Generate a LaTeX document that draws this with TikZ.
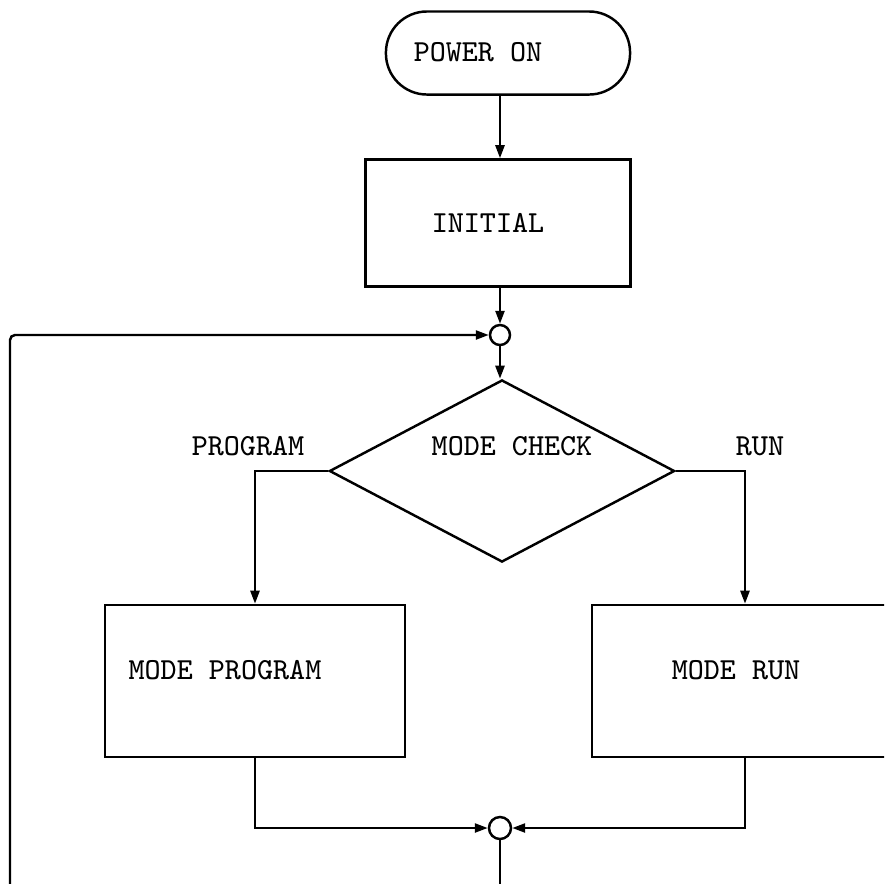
\documentclass[tikz,border=0pt]{standalone}
\usetikzlibrary{shapes.geometric,arrows.meta}
\begin{document}
\begin{tikzpicture}[x=0.01cm, y=-0.01cm, line width=0.7pt, >={Triangle[length=1.3mm,width=0.9mm]}]
    \tikzstyle{every node}=[font=\fontsize{8.7}{10}\selectfont\ttfamily, inner sep=0pt]
    \tikzstyle{terminal}=[draw, rectangle, rounded corners=0.41cm, minimum width=2.44cm, minimum height=0.83cm]
    \tikzstyle{box}=[draw, rectangle]
    \tikzstyle{decision}=[draw, diamond, minimum width=3.45cm, minimum height=1.82cm]
    \tikzstyle{junction}=[draw, circle, minimum size=0.2cm]
    \useasboundingbox (0,0) rectangle (884,884);
    \clip (0,0) rectangle (884,884);
    \fill [white] (0,0) rectangle (884,884);
    % blocks
    \node [terminal] (power) at (508,53) {};
    \node (powertxt) at (478,52) {POWER ON};
    \node [box, minimum width=2.65cm, minimum height=1.27cm] (initial) at (498,223) {};
    \node (initialtxt) at (488,223) {INITIAL};
    \node [junction] (top) at (500,335) {};
    \node [decision] (check) at (502,471) {};
    \node (checktxt) at (512,446) {MODE CHECK};
    \node (progtxt) at (248,446) {PROGRAM};
    \node (runtxt) at (760,446) {RUN};
    \node [box, minimum width=3.00cm, minimum height=1.52cm] (prog) at (255,681) {};
    \node (progboxtxt) at (225,670) {MODE PROGRAM};
    \node [box, minimum width=3.06cm, minimum height=1.52cm] (run) at (745,681) {};
    \node (runboxtxt) at (736,670) {MODE RUN};
    \node [junction, minimum size=0.22cm] (bottom) at (500,828) {};
    \coordinate (exit) at (500,900);
    \coordinate (loopin) at (10,900);
    % connectors
    \draw [->] (top |- power.south) -- (top |- initial.north);
    \draw [->] (top |- initial.south) -- (top);
    \draw [->] (top) -- (top |- check.north);
    \draw [->] (check.west) -| (prog.north);
    \draw [->] (check.east) -| (run.north);
    \draw [->] (prog.south) |- (bottom);
    \draw [->] (run.south) |- (bottom);
    \draw (bottom) -- (exit);
    \draw [->, rounded corners=0.05cm] (loopin) |- (top);
\end{tikzpicture}
\end{document}
